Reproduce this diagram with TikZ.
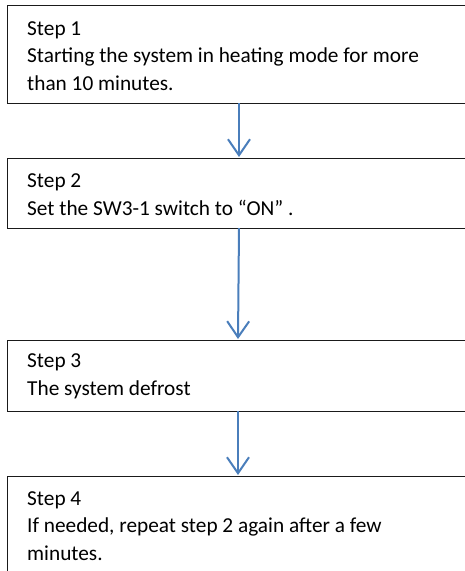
\documentclass[tikz,border=0pt]{standalone}
\usepackage{fontspec}
\setmainfont{Carlito}
\usetikzlibrary{arrows.meta}
\definecolor{flowblue}{HTML}{4A7EBB}
\definecolor{boxline}{HTML}{1A1A1A}
\tikzset{
  stepbox/.style={draw=boxline, line width=1.3pt, rectangle, inner sep=0pt,
    anchor=north west, minimum width=470pt},
  % base anchor of a multi-line node sits on its last line
  steptext/.style={anchor=base west, align=left, inner sep=0pt,
    font=\fontsize{21.3}{27.3}\selectfont},
  flowarrow/.style={draw=flowblue, line width=2pt,
    -{Straight Barb[length=16pt, width=22pt, line width=2pt]}}
}
\begin{document}
\begin{tikzpicture}[x=1pt, y=-1pt]
  \useasboundingbox (0,0) rectangle (465,571);
  \clip (0,0) rectangle (465,571);
  % the four step boxes; they run past the right margin
  \node[stepbox, minimum height=98pt] (b1) at (7,5) {};
  \node[stepbox, minimum height=70pt] (b2) at (7,158) {};
  \node[stepbox, minimum height=71pt] (b3) at (7,340) {};
  \node[stepbox, minimum height=110pt] (b4) at (7,476) {};
  % texts
  \node[steptext] (t1) at (27,90) {Step 1\\Starting the system in heating mode for more\\than 10 minutes.};
  \node[steptext] (t2) at (27,215) {Step 2\\Set the SW3-1 switch to “ON” .};
  \node[steptext] (t3) at (27,395) {Step 3\\The system defrost};
  \node[steptext] (t4) at (27,560) {Step 4\\If needed, repeat step 2 again after a few\\minutes.};
  % connectors
  \coordinate (a1s) at (239,103);
  \coordinate (a1e) at (239,157);
  \coordinate (a2s) at (239,228);
  \coordinate (a2e) at (238,339);
  \coordinate (a3s) at (238,411);
  \coordinate (a3e) at (238,475);
  \draw[flowarrow] (a1s) -- (a1e);
  \draw[flowarrow] (a2s) -- (a2e);
  \draw[flowarrow] (a3s) -- (a3e);
\end{tikzpicture}
\end{document}
